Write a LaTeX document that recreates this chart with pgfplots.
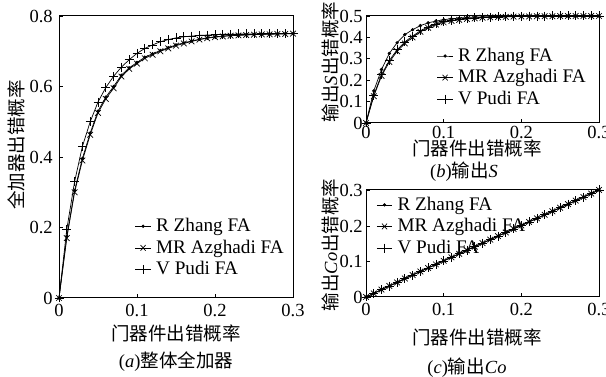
\documentclass[border=0pt]{standalone}
\usepackage{fontspec}
\setmainfont{Liberation Serif}
\newfontfamily\cjk{Noto Sans CJK SC}
\usepackage{pgfplots}
\usepackage{pgfplotstable}
\pgfplotsset{compat=1.18}

% full adder
\pgfplotstableread{
p     zh     az     pu
0.00  0.000  0.000  0.000
0.01  0.175  0.170  0.195
0.02  0.305  0.300  0.330
0.03  0.396  0.390  0.430
0.04  0.468  0.463  0.500
0.05  0.530  0.525  0.556
0.06  0.570  0.565  0.597
0.07  0.600  0.595  0.629
0.08  0.632  0.628  0.655
0.09  0.653  0.650  0.676
0.10  0.668  0.665  0.694
0.11  0.683  0.680  0.708
0.12  0.693  0.690  0.718
0.13  0.702  0.700  0.727
0.14  0.710  0.708  0.733
0.15  0.718  0.716  0.738
0.16  0.724  0.722  0.741
0.17  0.729  0.728  0.743
0.18  0.734  0.733  0.745
0.19  0.738  0.737  0.746
0.20  0.741  0.740  0.747
0.21  0.743  0.742  0.748
0.22  0.745  0.744  0.748
0.23  0.746  0.745  0.749
0.24  0.747  0.746  0.749
0.25  0.748  0.747  0.749
0.26  0.748  0.748  0.750
0.27  0.749  0.748  0.750
0.28  0.749  0.749  0.750
0.29  0.750  0.749  0.750
0.30  0.750  0.750  0.750
}\tabA

% output S
\pgfplotstableread{
p     zh     az     pu
0.00  0.000  0.000  0.000
0.01  0.150  0.125  0.130
0.02  0.250  0.220  0.226
0.03  0.325  0.285  0.292
0.04  0.375  0.335  0.342
0.05  0.413  0.372  0.379
0.06  0.436  0.400  0.406
0.07  0.455  0.426  0.431
0.08  0.468  0.445  0.449
0.09  0.476  0.460  0.463
0.10  0.483  0.470  0.473
0.11  0.487  0.477  0.479
0.12  0.490  0.482  0.484
0.13  0.493  0.486  0.488
0.14  0.495  0.489  0.491
0.15  0.496  0.492  0.493
0.16  0.497  0.494  0.495
0.17  0.498  0.495  0.496
0.18  0.498  0.496  0.497
0.19  0.499  0.497  0.498
0.20  0.499  0.498  0.498
0.21  0.500  0.498  0.499
0.22  0.500  0.499  0.499
0.23  0.500  0.499  0.499
0.24  0.500  0.499  0.500
0.25  0.500  0.500  0.500
0.26  0.500  0.500  0.500
0.27  0.500  0.500  0.500
0.28  0.500  0.500  0.500
0.29  0.500  0.500  0.500
0.30  0.500  0.500  0.500
}\tabB

% output Co
\pgfplotstableread{
p     zh     az     pu
0.00  0.000  0.000  0.000
0.01  0.010  0.010  0.010
0.02  0.021  0.021  0.021
0.03  0.031  0.031  0.031
0.04  0.041  0.041  0.041
0.05  0.052  0.052  0.052
0.06  0.062  0.062  0.062
0.07  0.072  0.072  0.072
0.08  0.082  0.082  0.082
0.09  0.092  0.092  0.092
0.10  0.102  0.102  0.102
0.11  0.112  0.112  0.112
0.12  0.122  0.122  0.122
0.13  0.132  0.132  0.132
0.14  0.142  0.142  0.142
0.15  0.152  0.152  0.152
0.16  0.162  0.162  0.162
0.17  0.172  0.172  0.172
0.18  0.182  0.182  0.182
0.19  0.192  0.192  0.192
0.20  0.202  0.202  0.202
0.21  0.212  0.212  0.212
0.22  0.222  0.222  0.222
0.23  0.232  0.232  0.232
0.24  0.242  0.242  0.242
0.25  0.252  0.252  0.252
0.26  0.262  0.262  0.262
0.27  0.272  0.272  0.272
0.28  0.282  0.282  0.282
0.29  0.292  0.292  0.292
0.30  0.302  0.302  0.302
}\tabC

\pgfplotsset{
  myax/.style={
    scale only axis, anchor=south west,
    xmin=0, xmax=0.3, xtick={0,0.1,0.2,0.3},
    axis line style={line width=1pt},
    tick style={black, line width=0.6pt},
    major tick length=4pt, tick align=inside,
    xtick pos=bottom, ytick pos=left,
    /pgf/number format/assume math mode=true,
    tick label style={font=\fontsize{18.5}{20}\selectfont},
    legend style={draw=none, fill=none, font=\fontsize{19.2}{21}\selectfont,
      row sep=1.5pt, column sep=3pt, inner sep=0pt, outer sep=0pt},
    legend image post style={xscale=0.9},
    legend cell align=left,
    clip=false,
  },
  zh/.style={black, line width=0.7pt, mark=*, mark size=1.3pt},
  az/.style={black, line width=0.7pt, mark=x, mark size=4pt},
  pu/.style={black, line width=0.7pt, mark=+, mark size=4.5pt},
}

\begin{document}
\fontsize{18.5}{21}\selectfont
\begin{tikzpicture}[x=1pt,y=1pt]
\path[use as bounding box] (0,0) rectangle (606,377);

% (a)
\begin{axis}[myax, at={(59pt,79pt)}, width=234pt, height=282pt,
  ymin=0, ymax=0.8, ytick={0,0.2,0.4,0.6,0.8},
  legend style={at={(0.325,0.29)}, anchor=north west}]
\addplot[zh] table[x=p,y=zh]{\tabA};
\addplot[az] table[x=p,y=az]{\tabA};
\addplot[pu] table[x=p,y=pu]{\tabA};
\legend{R Zhang FA, MR Azghadi FA, V Pudi FA}
\end{axis}

% (b)
\begin{axis}[myax, at={(366pt,254pt)}, width=233pt, height=107pt,
  ymin=0, ymax=0.5, ytick={0,0.1,0.2,0.3,0.4,0.5},
  yticklabel style={xshift=3pt}, xticklabel style={yshift=3pt},
  legend style={at={(0.305,0.72)}, anchor=north west}]
\addplot[zh] table[x=p,y=zh]{\tabB};
\addplot[az] table[x=p,y=az]{\tabB};
\addplot[pu] table[x=p,y=pu]{\tabB};
\legend{R Zhang FA, MR Azghadi FA, V Pudi FA}
\end{axis}

% (c)
\begin{axis}[myax, at={(366pt,80pt)}, width=233pt, height=107pt,
  ymin=0, ymax=0.302, ytick={0,0.1,0.2,0.3},
  yticklabel style={xshift=3pt},
  legend style={at={(0.045,0.955)}, anchor=north west}]
\addplot[zh] table[x=p,y=zh]{\tabC};
\addplot[az] table[x=p,y=az]{\tabC};
\addplot[pu] table[x=p,y=pu]{\tabC};
\legend{R Zhang FA, MR Azghadi FA, V Pudi FA}
\end{axis}

% labels
\node at (176,44) {\cjk 门器件出错概率};
\node[rotate=90] at (16,232) {\cjk 全加器出错概率};
\node at (176,15) {(\textit{a}){\cjk 整体全加器}};

\node at (477,229) {\cjk 门器件出错概率};
\node[rotate=90] at (330,315) {{\cjk 输出}\textit{S}{\cjk 出错概率}};
\node at (464,205) {(\textit{b}){\cjk 输出}\textit{S}};

\node at (477,40) {\cjk 门器件出错概率};
\node[rotate=90] at (330,132) {{\cjk 输出}\textit{Co}{\cjk 出错概率}};
\node at (467,9) {(\textit{c}){\cjk 输出}\textit{Co}};
\end{tikzpicture}
\end{document}
